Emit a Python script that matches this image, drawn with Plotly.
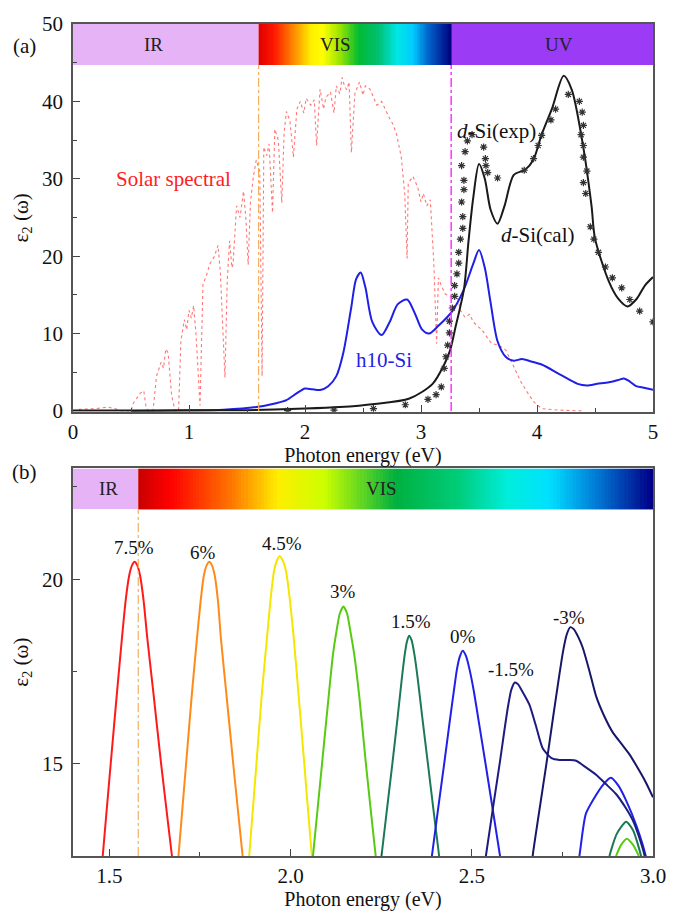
import numpy as np
import plotly.graph_objects as go

# ---------------- Panel (a) data ----------------
solar_x = [0.05, 0.2, 0.3, 0.36, 0.42, 0.5, 0.52, 0.56, 0.58, 0.61, 0.63, 0.65, 0.69, 0.72, 0.76, 0.78,
           0.8, 0.82, 0.84, 0.85, 0.88, 0.91, 0.93, 0.96, 0.98, 1.0, 1.02, 1.04, 1.06, 1.08, 1.095,
           1.11, 1.12, 1.15, 1.18, 1.22, 1.25, 1.27, 1.28, 1.31, 1.33, 1.35, 1.37, 1.38, 1.41, 1.44,
           1.47, 1.49, 1.51, 1.53, 1.555, 1.58, 1.61, 1.63, 1.645, 1.67, 1.69, 1.72, 1.74, 1.77,
           1.80, 1.82, 1.84, 1.87, 1.90, 1.93, 1.96, 1.99, 2.01, 2.05, 2.08, 2.10, 2.13, 2.16, 2.18,
           2.22, 2.25, 2.27, 2.30, 2.32, 2.34, 2.36, 2.38, 2.40, 2.43, 2.47, 2.50, 2.52, 2.56,
           2.59, 2.62, 2.66, 2.70, 2.73, 2.76, 2.79, 2.83, 2.86, 2.88, 2.89, 2.93, 2.97, 3.0,
           3.02, 3.05, 3.08, 3.11, 3.135, 3.15, 3.18, 3.21, 3.26, 3.31, 3.34, 3.38, 3.42, 3.45,
           3.53, 3.57, 3.61, 3.67, 3.73, 3.81, 3.86, 3.90, 3.97, 4.04, 4.2, 4.4]
solar_y = [0.2, 0.3, 0.5, 0.3, 0.0, 0.0, 1.0, 1.8, 2.3, 2.6, 0.5, 0.0, 0.0, 4.5, 6.3, 5.5,
           8.0, 7.5, 3.5, 2.0, 0.0, 0.0, 9.0, 11.8, 10.5, 13.0, 12.0, 13.6, 10.0, 5.0, 0.7,
           10.0, 16.3, 17.5, 19.0, 20.0, 21.4, 18.0, 15.0, 4.3, 17.0, 22.0, 18.5, 19.0, 26.5, 25.0,
           28.4, 25.0, 18.9, 27.0, 30.3, 32.4, 31.0, 4.5, 34.1, 33.0, 34.5, 25.6, 36.4, 35.0,
           26.9, 36.0, 38.7, 37.5, 32.8, 39.0, 40.0, 38.5, 40.4, 39.5, 40.2, 34.3, 41.6, 39.0, 40.5,
           41.2, 38.5, 42.0, 41.0, 43.1, 42.0, 41.5, 42.5, 33.4, 41.0, 42.5, 40.8, 42.0, 41.6,
           40.5, 39.5, 40.0, 38.7, 37.8, 37.0, 35.7, 32.8, 28.0, 19.7, 29.4, 30.3, 29.0, 27.0,
           28.1, 26.5, 27.3, 19.3, 8.7, 17.2, 16.0, 15.1, 14.7, 15.1, 13.0, 12.1, 12.5, 11.5,
           10.4, 9.5, 8.7, 8.5, 7.9, 5.4, 3.8, 2.8, 1.2, 0.3, 0.1, 0.0]

cal_x = [0.0, 0.5, 1.0, 1.5, 2.0, 2.3, 2.6, 2.9, 3.1, 3.2, 3.25, 3.3, 3.37, 3.41, 3.45, 3.5,
         3.55, 3.6, 3.66, 3.72, 3.8, 3.9, 3.97, 4.04, 4.13, 4.23, 4.3, 4.39, 4.47, 4.5, 4.62,
         4.7, 4.78, 4.86, 4.93, 5.0]
cal_y = [0.05, 0.05, 0.08, 0.1, 0.3, 0.5, 0.9, 1.6, 3.5, 6.0, 7.8, 11.0, 15.7, 22.0, 27.5, 31.9,
         30.0, 26.0, 24.2, 26.5, 30.5, 31.2, 32.5, 35.7, 39.1, 43.3, 41.5, 34.9, 26.5, 22.3, 16.7,
         14.5, 13.5, 14.5, 16.2, 17.3]

exp_x = [1.85, 2.25, 2.59, 2.865, 3.06, 3.13, 3.175, 3.20, 3.215, 3.23, 3.245, 3.245, 3.27, 3.29,
         3.29, 3.31, 3.325, 3.325, 3.34, 3.36, 3.36, 3.35, 3.37, 3.37, 3.35, 3.38, 3.40, 3.44,
         3.54, 3.555, 3.56, 3.575, 3.66, 3.89, 3.97, 4.01, 4.04, 4.12, 4.16, 4.27, 4.365, 4.39,
         4.40, 4.38, 4.40, 4.40, 4.43, 4.40, 4.42, 4.46, 4.49, 4.53, 4.59, 4.65, 4.73, 4.80,
         4.885, 5.0]
exp_y = [0.05, 0.1, 0.3, 0.8, 1.5, 2.1, 3.1, 5.5, 7.0, 8.5, 10.1, 11.6, 13.3, 14.8,
         16.2, 17.7, 19.1, 20.5, 22.2, 23.6, 25.1, 27.0, 28.6, 29.8, 31.7, 33.5, 34.9, 35.7,
         34.1, 32.6, 31.7, 30.8, 30.1, 31.1, 32.6, 34.3, 35.6, 37.6, 39.0, 40.9, 40.0, 38.6,
         36.9, 35.7, 34.3, 32.8, 31.0, 29.5, 28.1, 23.8, 22.2, 20.5, 18.6, 17.2, 15.9, 14.4,
         12.9, 11.5]

h10_x = [0.5, 1.0, 1.3, 1.58, 1.75, 1.84, 1.93, 2.0, 2.06, 2.13, 2.2, 2.27, 2.33, 2.4, 2.44,
         2.48, 2.52, 2.58, 2.66, 2.73, 2.8, 2.88, 2.95, 3.01, 3.07, 3.15, 3.27, 3.37, 3.45,
         3.50, 3.55, 3.6, 3.66, 3.73, 3.8, 3.87, 3.95, 4.04, 4.2, 4.35, 4.43, 4.52, 4.62,
         4.7, 4.75, 4.8, 4.85, 4.92, 5.0]
h10_y = [0.0, 0.05, 0.15, 0.5, 1.0, 1.4, 2.3, 2.9, 2.8, 2.7, 3.2, 4.5, 7.5, 13.5, 17.0,
         17.9, 16.0, 11.5, 9.8, 11.5, 13.8, 14.4, 12.5, 10.5, 10.0, 11.0, 12.9, 15.7, 19.0,
         20.8, 18.5, 14.0, 9.0, 7.0, 6.5, 6.7, 6.4, 6.0, 4.7, 3.5, 3.3, 3.5, 3.7,
         4.0, 4.2, 3.8, 3.25, 3.0, 2.75]

band_a_edges = [0.0, 1.6, 3.26, 5.0]
band_a_y = [44.7, 50.0]
band_a_labels = ["IR", "VIS", "UV"]
band_a_label_x = [0.69, 2.26, 4.19]

# ---------------- Panel (b) data ----------------
band_b_edges = [1.4, 1.58, 3.0]
band_b_y = [21.9, 23.0]
band_b_labels = ["IR", "VIS"]
band_b_label_x = [1.497, 2.25]

s75_x = [1.478, 1.482, 1.504, 1.522, 1.535, 1.545, 1.555, 1.563, 1.57, 1.577, 1.585, 1.595, 1.605,
         1.622, 1.643, 1.673, 1.678]
s75_y = [12.0, 12.5, 15.0, 17.0, 18.4, 19.4, 20.1, 20.38, 20.47, 20.38, 20.1, 19.4, 18.4,
         16.9, 15.0, 12.5, 12.1]
s60_x = [1.687, 1.691, 1.712, 1.728, 1.742, 1.752, 1.761, 1.769, 1.776, 1.783, 1.791, 1.8, 1.808,
         1.823, 1.842, 1.868, 1.873]
s60_y = [12.0, 12.5, 15.0, 16.9, 18.4, 19.4, 20.1, 20.38, 20.47, 20.38, 20.1, 19.4, 18.4,
         16.9, 15.0, 12.5, 12.1]
s45_x = [1.882, 1.886, 1.906, 1.921, 1.935, 1.946, 1.955, 1.963, 1.97, 1.978, 1.987, 1.997, 2.009,
         2.022, 2.038, 2.059, 2.064]
s45_y = [12.0, 12.5, 15.0, 16.9, 18.4, 19.55, 20.25, 20.52, 20.62, 20.52, 20.25, 19.55, 18.4,
         16.9, 15.0, 12.5, 12.1]
s30_x = [2.057, 2.062, 2.087, 2.104, 2.117, 2.127, 2.136, 2.146, 2.156, 2.165, 2.176, 2.19, 2.208,
         2.235, 2.24, None, 2.898, 2.912, 2.928, 2.945, 2.961]
s30_y = [12.0, 12.5, 15.0, 16.7, 17.95, 18.6, 19.07, 19.26, 19.07, 18.6, 17.95, 16.8, 15.0,
         12.5, 12.1, None, 12.5, 12.8, 12.97, 12.8, 12.5]
s15_x = [2.246, 2.251, 2.281, 2.296, 2.307, 2.315, 2.321, 2.327, 2.334, 2.342, 2.351, 2.363, 2.379,
         2.41, 2.416, None, 2.875, 2.88, 2.9, 2.926, 2.945, 2.967, 2.971]
s15_y = [12.0, 12.5, 15.0, 16.3, 17.3, 17.95, 18.3, 18.47, 18.35, 17.95, 17.3, 16.3, 15.0,
         12.5, 12.1, None, 12.2, 12.5, 13.1, 13.43, 13.2, 12.5, 12.2]
s00_x = [2.385, 2.39, 2.424, 2.44, 2.451, 2.459, 2.467, 2.475, 2.484, 2.494, 2.506, 2.52, 2.538,
         2.578, 2.584, None, 2.79, 2.797, 2.815, 2.86, 2.884, 2.905, 2.926, 2.955, 2.98, 2.985]
s00_y = [12.0, 12.5, 15.0, 16.2, 17.0, 17.55, 17.9, 18.06, 17.92, 17.55, 16.95, 16.1, 15.0,
         12.5, 12.1, None, 12.2, 12.5, 13.65, 14.4, 14.62, 14.4, 14.0, 13.3, 12.5, 12.2]
sm15_x = [2.534, 2.539, 2.577, 2.59, 2.6, 2.609, 2.619, 2.628, 2.64, 2.659, 2.677, 2.696, 2.72,
          2.742, 2.77, 2.788, 2.815, 2.843, 2.87, 2.898, 2.925, 2.944, 2.962, 2.977, 2.982]
sm15_y = [12.0, 12.5, 15.0, 15.9, 16.55, 17.0, 17.2, 17.15, 16.95, 16.6, 16.03, 15.41, 15.15,
          15.1, 15.1, 15.08, 14.9, 14.7, 14.45, 14.18, 13.8, 13.47, 13.0, 12.5, 12.2]
sm30_x = [2.663, 2.668, 2.706, 2.725, 2.74, 2.752, 2.762, 2.772, 2.782, 2.793, 2.806, 2.825,
          2.843, 2.865, 2.889, 2.912, 2.936, 2.96, 2.98, 3.0]
sm30_y = [12.0, 12.5, 15.0, 16.3, 17.3, 18.05, 18.5, 18.7, 18.64, 18.45, 18.15, 17.5,
          16.83, 16.3, 15.85, 15.55, 15.24, 14.85, 14.5, 14.09]

strain_labels = ["7.5%", "6%", "4.5%", "3%", "1.5%", "0%", "-1.5%", "-3%"]
strain_label_x = [1.569, 1.758, 1.976, 2.146, 2.332, 2.475, 2.608, 2.767]
strain_label_y = [20.85, 20.72, 20.98, 19.66, 18.84, 18.45, 17.56, 18.96]
strain_colors = ["#ff1a1a", "#ff8a1a", "#f5e600", "#55cc11", "#1b7a55", "#2020e8", "#1c1c80", "#17176a"]

FONT = "Liberation Serif"

fig = go.Figure()

# ---- gradient VIS bands (heatmaps) ----
vis_scale_a = [[0.0, "#e00000"], [0.08, "#ff1a00"], [0.17, "#ff8000"], [0.27, "#ffee00"],
               [0.33, "#ffff00"], [0.42, "#99e600"], [0.52, "#00bb33"], [0.62, "#00c070"],
               [0.72, "#00e6e6"], [0.80, "#00ccff"], [0.88, "#0066cc"], [1.0, "#000080"]]
vis_scale_b = [[0.0, "#cc0000"], [0.06, "#ff0000"], [0.18, "#ff7700"], [0.27, "#ffee00"],
               [0.36, "#ccff00"], [0.5, "#00b040"], [0.62, "#00cc77"], [0.72, "#00eedd"],
               [0.8, "#00e0ff"], [0.88, "#0088dd"], [1.0, "#000088"]]
nseg = 160
xa = np.linspace(band_a_edges[1], band_a_edges[2], nseg + 1)
fig.add_trace(go.Heatmap(x=xa, y=band_a_y, z=[np.linspace(0, 1, nseg)], colorscale=vis_scale_a,
                         zmin=0, zmax=1, showscale=False, hoverinfo="skip", xaxis="x", yaxis="y"))
xb = np.linspace(band_b_edges[1], band_b_edges[2], nseg + 1)
fig.add_trace(go.Heatmap(x=xb, y=band_b_y, z=[np.linspace(0, 1, nseg)], colorscale=vis_scale_b,
                         zmin=0, zmax=1, showscale=False, hoverinfo="skip", xaxis="x2", yaxis="y2"))

# ---- panel (a) traces ----
fig.add_trace(go.Scatter(x=solar_x, y=solar_y, mode="lines",
                         line=dict(color="rgba(255,60,60,0.7)", width=1.1, dash="dot"),
                         xaxis="x", yaxis="y", showlegend=False))
fig.add_trace(go.Scatter(x=h10_x, y=h10_y, mode="lines", line=dict(color="#1f1fe6", width=2, shape="spline", smoothing=0.8),
                         xaxis="x", yaxis="y", showlegend=False))
fig.add_trace(go.Scatter(x=cal_x, y=cal_y, mode="lines", line=dict(color="#1a1a1a", width=2, shape="spline", smoothing=0.8),
                         xaxis="x", yaxis="y", showlegend=False))
fig.add_trace(go.Scatter(x=exp_x, y=exp_y, mode="markers",
                         marker=dict(symbol="asterisk-open", size=6, color="#333333",
                                     line=dict(color="#333333", width=1.2)),
                         xaxis="x", yaxis="y", showlegend=False))

# ---- panel (b) traces ----
strain_xs = [s75_x, s60_x, s45_x, s30_x, s15_x, s00_x, sm15_x, sm30_x]
strain_ys = [s75_y, s60_y, s45_y, s30_y, s15_y, s00_y, sm15_y, sm30_y]
for sx, sy, col in zip(strain_xs, strain_ys, strain_colors):
    fig.add_trace(go.Scatter(x=sx, y=sy, mode="lines", connectgaps=False,
                             line=dict(color=col, width=2, shape="spline", smoothing=0.6),
                             xaxis="x2", yaxis="y2", showlegend=False))

shapes = []
shapes.append(dict(type="rect", xref="x", yref="y", x0=band_a_edges[0], x1=band_a_edges[1],
                   y0=band_a_y[0], y1=band_a_y[1], fillcolor="#e6b4f6", line=dict(width=0), layer="below"))
shapes.append(dict(type="rect", xref="x", yref="y", x0=band_a_edges[2], x1=band_a_edges[3],
                   y0=band_a_y[0], y1=band_a_y[1], fillcolor="#9b3bf6", line=dict(width=0), layer="below"))
shapes.append(dict(type="rect", xref="x2", yref="y2", x0=band_b_edges[0], x1=band_b_edges[1],
                   y0=band_b_y[0], y1=band_b_y[1], fillcolor="#e6b4f6", line=dict(width=0), layer="below"))
shapes.append(dict(type="line", xref="x", yref="y", x0=band_a_edges[1], x1=band_a_edges[1], y0=0, y1=band_a_y[0],
                   line=dict(color="#f4b060", width=1.2, dash="dashdot")))
shapes.append(dict(type="line", xref="x", yref="y", x0=band_a_edges[2], x1=band_a_edges[2], y0=0, y1=band_a_y[0],
                   line=dict(color="#ff22ff", width=1.4, dash="dashdot")))
shapes.append(dict(type="line", xref="x2", yref="y2", x0=band_b_edges[1], x1=band_b_edges[1], y0=12.5, y1=band_b_y[0],
                   line=dict(color="#f4b060", width=1.2, dash="dashdot")))

def note(x, y, text, size, color, xref="x", yref="y"):
    return dict(x=x, y=y, xref=xref, yref=yref, text=text, showarrow=False,
                xanchor="center", yanchor="middle", font=dict(family=FONT, size=size, color=color))

ann = []
for lab, lx in zip(band_a_labels, band_a_label_x):
    ann.append(note(lx, sum(band_a_y) / 2, lab, 19, "#222"))
for lab, lx in zip(band_b_labels, band_b_label_x):
    ann.append(note(lx, sum(band_b_y) / 2, lab, 19, "#222", "x2", "y2"))
ann.append(note(0.87, 30.0, "Solar spectral", 21, "#ff2020"))
ann.append(note(2.68, 6.6, "h10-Si", 21, "#1f1fe6"))
ann.append(note(4.0, 22.7, "<i>d</i>-Si(cal)", 21, "#111"))
ann.append(note(3.655, 36.2, "<i>d</i>-Si(exp)", 21, "#111"))
for lab, lx, ly in zip(strain_labels, strain_label_x, strain_label_y):
    ann.append(note(lx, ly, lab, 19, "#111", "x2", "y2"))
ann.append(note(-0.083, 0.974, "(a)", 21, "#111", "paper", "paper"))
ann.append(note(-0.083, 0.461, "(b)", 21, "#111", "paper", "paper"))

axis_common = dict(showline=True, linecolor="#555", linewidth=1.5, mirror=True, ticks="inside",
                   ticklen=7, tickwidth=1.2, tickcolor="#444", showgrid=False, zeroline=False,
                   tickfont=dict(family=FONT, size=21, color="#111"))

fig.update_layout(
    width=684, height=918, margin=dict(l=73, r=31, t=15, b=55),
    paper_bgcolor="white", plot_bgcolor="white", showlegend=False,
    shapes=shapes, annotations=ann,
    xaxis=dict(domain=[0, 1], anchor="y", range=[0, 5], tickvals=[0, 1, 2, 3, 4, 5],
               minor=dict(ticks="inside", ticklen=4, tickcolor="#444", dtick=0.5, tick0=0),
               title=dict(text="Photon energy (eV)", font=dict(family=FONT, size=20, color="#111"), standoff=4),
               **axis_common),
    yaxis=dict(domain=[0.534, 1], anchor="x", range=[-0.1, 50], tickvals=[0, 10, 20, 30, 40, 50],
               minor=dict(ticks="inside", ticklen=4, tickcolor="#444", dtick=5, tick0=0),
               title=dict(text="ε<sub>2</sub> (ω)", font=dict(family=FONT, size=21, color="#111"), standoff=8),
               ticklabelstandoff=4, **axis_common),
    xaxis2=dict(domain=[0, 1], anchor="y2", range=[1.4, 3.0], tickvals=[1.5, 2.0, 2.5, 3.0],
                ticktext=["1.5", "2.0", "2.5", "3.0"],
                minor=dict(ticks="inside", ticklen=4, tickcolor="#444", dtick=0.25, tick0=1.5),
                title=dict(text="Photon energy (eV)", font=dict(family=FONT, size=20, color="#111"), standoff=4),
                **axis_common),
    yaxis2=dict(domain=[0, 0.4658], anchor="x2", range=[12.5, 23.0], tickvals=[15, 20],
                minor=dict(ticks="inside", ticklen=4, tickcolor="#444", dtick=2.5, tick0=15),
                title=dict(text="ε<sub>2</sub> (ω)", font=dict(family=FONT, size=21, color="#111"), standoff=8),
                ticklabelstandoff=4, **axis_common),
)

fig.write_html("out.html")
